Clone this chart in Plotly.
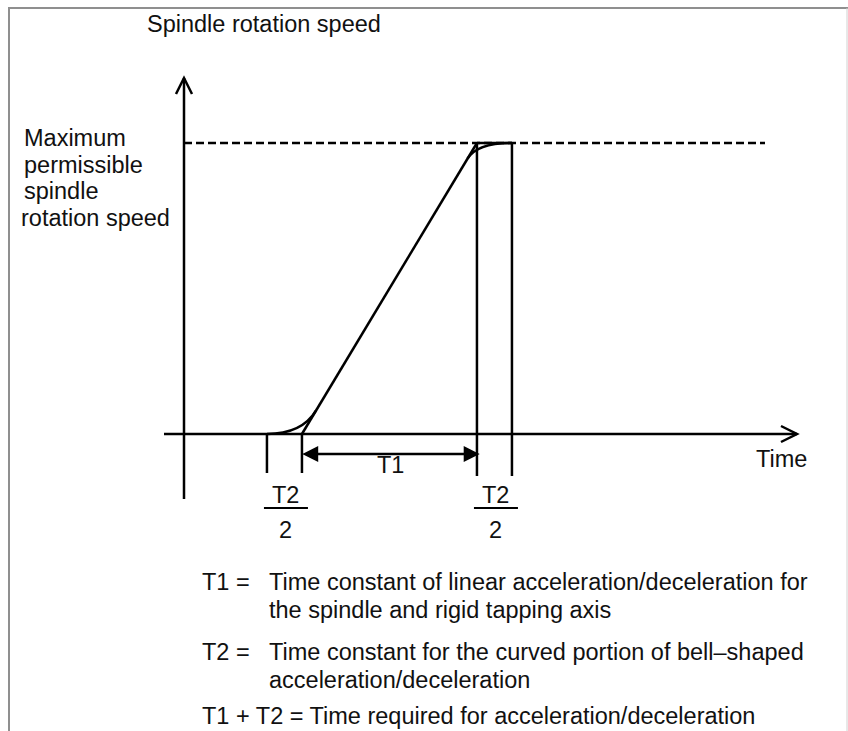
import plotly.graph_objects as go

# ---- spindle acceleration profile (time units, speed in % of maximum) ----
T_START = 3.37          # start of the linear ramp
T1 = 5.0                # linear acceleration time constant
T2 = 2.0                # bell-shaped (curved) portion time constant
V_MAX = 100.0           # maximum permissible spindle rotation speed
JOIN_LOW = 0.4          # where the lower curve joins the ramp (fraction of T2/2)
JOIN_HIGH = 0.27        # where the upper curve leaves the ramp (fraction of T2/2)

axis_titles = ["Spindle rotation speed", "Time"]
vmax_label = ["Maximum", "permissible", "spindle", "rotation speed"]
legend_rows = [
    ("T1 =", ["Time constant of linear acceleration/deceleration for",
              "the spindle and rigid tapping axis"]),
    ("T2 =", ["Time constant for the curved portion of bell\u2013shaped",
              "acceleration/deceleration"]),
]
total_row = "T1 + T2 = Time required for acceleration/deceleration"

# ---- canvas geometry ----
W, H = 848, 731
ORIGIN = (184, 434)     # pixel position of (t=0, v=0)
PX_T = 35.0             # pixels per time unit
PX_V = 2.91             # pixels per speed unit


def tx(px):
    return (px - ORIGIN[0]) / PX_T


def vy(py):
    return (ORIGIN[1] - py) / PX_V


def dt(px):
    return px / PX_T


def dv(px):
    return px / PX_V


FONT = dict(family="Arial, 'Liberation Sans', sans-serif", size=23.5, color="#111")
LINE = dict(color="black", width=2.5)

t_a = T_START - T2 / 2          # start of the bell curve
t_b = T_START                   # start of linear ramp
t_c = T_START + T1              # end of linear ramp
t_d = T_START + T1 + T2 / 2     # end of the bell curve
slope = V_MAX / T1

fig = go.Figure()

# linear ramp
fig.add_trace(go.Scatter(x=[t_b, t_c], y=[0, V_MAX], mode="lines",
                         line=LINE, hoverinfo="skip", showlegend=False))

shapes = []


def seg(x0, y0, x1, y1, **kw):
    line = dict(LINE)
    line.update(kw)
    shapes.append(dict(type="line", x0=x0, y0=y0, x1=x1, y1=y1,
                       xref="x", yref="y", line=line, layer="above"))


def path(d, fill=None):
    s = dict(type="path", path=d, xref="x", yref="y", line=LINE, layer="above")
    if fill:
        s["fillcolor"] = fill
    shapes.append(s)


# bell-shaped curves (quadratic, tangent to the ramp)
lo_t = t_b + JOIN_LOW * T2 / 2
hi_t = t_c - JOIN_HIGH * T2 / 2
path(f"M {t_a},0 Q {t_b},0 {lo_t},{slope * (lo_t - t_b)}")
path(f"M {hi_t},{slope * (hi_t - t_b)} Q {t_c},{V_MAX} {t_d},{V_MAX}")

# axes with open arrowheads
seg(0, vy(499), 0, vy(78))
path(f"M {-dt(8)},{vy(94)} L 0,{vy(78)} L {dt(8)},{vy(94)}")
seg(tx(164), 0, tx(797), 0)
path(f"M {tx(781)},{dv(8)} L {tx(797)},0 L {tx(781)},{-dv(8)}")

# maximum speed: dashed reference and flat top of the profile
seg(0, V_MAX, tx(765), V_MAX, dash="8px,4px")
seg(t_c, V_MAX, t_d, V_MAX)

# time markers
for t in (t_a, t_b):
    seg(t, 0, t, vy(473))
for t in (t_c, t_d):
    seg(t, V_MAX, t, vy(476))

# T1 dimension arrow
ya = vy(454)
seg(t_b + dt(10), ya, t_c - dt(10), ya)
path(f"M {t_b + dt(3)},{ya} L {t_b + dt(15)},{ya + dv(6)} L {t_b + dt(15)},{ya - dv(6)} Z",
     fill="black")
path(f"M {t_c},{ya} L {t_c - dt(12)},{ya + dv(6)} L {t_c - dt(12)},{ya - dv(6)} Z",
     fill="black")

# T2/2 fraction bars
for t in (t_a, t_c):
    seg(t - dt(3), vy(508), t + dt(41), vy(508), width=2)

annotations = []


def text(s, px, py, xanchor="left"):
    annotations.append(dict(text=s, x=tx(px), y=vy(py), xref="x", yref="y",
                            showarrow=False, xanchor=xanchor, yanchor="middle",
                            font=FONT))


text(axis_titles[0], 145, 24)
text(axis_titles[1], 781, 459, "center")
for i, s in enumerate(vmax_label[:3]):
    text(s, 22, 138 + 26.7 * i)
text(vmax_label[3], 172, 138 + 26.7 * 3, "right")

text("T1", 390, 465, "center")
for px in (t_a, t_c):
    cx = ORIGIN[0] + px * PX_T + 19
    text("T2", cx, 495, "center")
    text("2", cx, 530, "center")

row_y = [582, 652]
for (lab, lines), y0 in zip(legend_rows, row_y):
    text(lab, 200, y0)
    for k, s in enumerate(lines):
        text(s, 267, y0 + 28 * k)
text(total_row, 200, 716)

# frame
shapes.append(dict(type="line", xref="paper", yref="paper", x0=9 / W, x1=9 / W,
                   y0=0, y1=1 - 8 / H, line=dict(color="#8f8f8f", width=2)))
shapes.append(dict(type="line", xref="paper", yref="paper", x0=8 / W, x1=1,
                   y0=1 - 8 / H, y1=1 - 8 / H, line=dict(color="#8f8f8f", width=2)))
shapes.append(dict(type="line", xref="paper", yref="paper", x0=1 - 1 / W, x1=1 - 1 / W,
                   y0=0, y1=1 - 8 / H, line=dict(color="#d0d0d0", width=1)))

fig.update_layout(
    width=W, height=H, margin=dict(l=0, r=0, t=0, b=0),
    paper_bgcolor="white", plot_bgcolor="white",
    xaxis=dict(range=[tx(0), tx(W)], visible=False, fixedrange=True),
    yaxis=dict(range=[vy(H), vy(0)], visible=False, fixedrange=True),
    shapes=shapes, annotations=annotations, showlegend=False,
)

fig.write_html("out.html")
